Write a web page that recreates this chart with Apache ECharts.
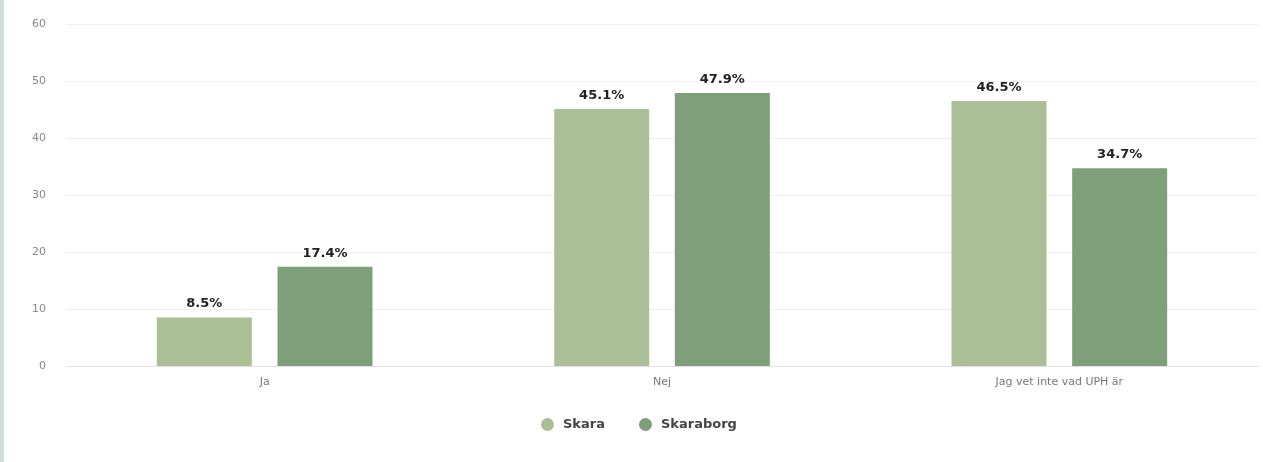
<!DOCTYPE html>
<html>
<head>
<meta charset="utf-8">
<script src="https://cdn.jsdelivr.net/npm/echarts@6/dist/echarts.min.js"></script>
<style>
html,body{margin:0;padding:0;background:#fff;}
#wrap{position:absolute;left:0;top:0;width:1263px;height:462px;border-left:4px solid #d5dcdc;box-sizing:border-box;}
#chart{width:1259px;height:462px;}
</style>
</head>
<body>
<div id="wrap"><div id="chart"></div></div>
<script>
const categories = ['Ja', 'Nej', 'Jag vet inte vad UPH är'];
const skara = [8.5, 45.1, 46.5];
const skaraborg = [17.4, 47.9, 34.7];
const seriesNames = ['Skara', 'Skaraborg'];

const chart = echarts.init(document.getElementById('chart'));
const labelStyle = {
  show: true, position: 'top', distance: 7,
  formatter: p => p.value + '%',
  fontFamily: 'DejaVu Sans', fontWeight: 'bold', fontSize: 13, color: '#222'
};
chart.setOption({
  animation: false,
  grid: { left: 62, right: 5, top: 24, bottom: 96 },
  legend: {
    bottom: 26, left: 532, itemWidth: 13, itemHeight: 13, icon: 'circle', itemGap: 34,
    textStyle: { fontFamily: 'DejaVu Sans', fontWeight: 'bold', fontSize: 13, color: '#444', padding: [0, 0, 0, 4] },
    data: seriesNames
  },
  xAxis: {
    type: 'category', data: categories,
    axisLine: { lineStyle: { color: '#e2e2e2' } },
    axisTick: { show: false },
    axisLabel: { color: '#777', fontSize: 11, fontFamily: 'DejaVu Sans', margin: 11 }
  },
  yAxis: {
    type: 'value', min: 0, max: 60, interval: 10,
    axisLabel: { color: '#888', fontSize: 11, fontFamily: 'DejaVu Sans', margin: 20 },
    splitLine: { lineStyle: { color: '#efefef' } }
  },
  series: [
    { name: seriesNames[0], type: 'bar', data: skara, barWidth: 95, barGap: '27%',
      itemStyle: { color: '#aabf96' }, label: labelStyle },
    { name: seriesNames[1], type: 'bar', data: skaraborg, barWidth: 95,
      itemStyle: { color: '#7f9f7a' }, label: labelStyle }
  ]
});
</script>
</body>
</html>
